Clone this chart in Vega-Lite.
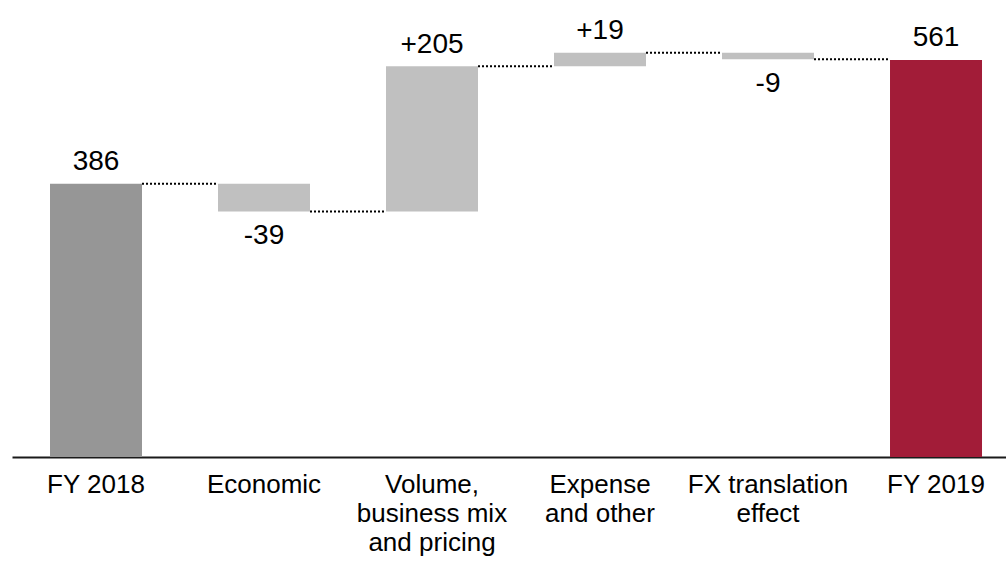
{
  "$schema": "https://vega.github.io/schema/vega-lite/v6.json",
  "autosize": {"type": "none"},
  "width": 994,
  "height": 453,
  "padding": {"left": 12, "top": 4, "right": 0, "bottom": 105},
  "background": "white",
  "config": {"view": {"stroke": null}, "font": "Liberation Sans"},
  "datasets": {
    "bars": [
      {"cat": "FY 2018", "start": 0, "end": 386, "label": "386", "kind": "start", "side": "up"},
      {"cat": "Economic", "start": 386, "end": 347, "label": "-39", "kind": "delta", "side": "down"},
      {"cat": "Volume,\nbusiness mix\nand pricing", "start": 347, "end": 552, "label": "+205", "kind": "delta", "side": "up"},
      {"cat": "Expense\nand other", "start": 552, "end": 571, "label": "+19", "kind": "delta", "side": "up"},
      {"cat": "FX translation\neffect", "start": 571, "end": 562, "label": "-9", "kind": "delta", "side": "down"},
      {"cat": "FY 2019", "start": 0, "end": 561, "label": "561", "kind": "final", "side": "up"}
    ],
    "links": [
      {"from": "FY 2018", "to": "Economic", "level": 386},
      {"from": "Economic", "to": "Volume,\nbusiness mix\nand pricing", "level": 347},
      {"from": "Volume,\nbusiness mix\nand pricing", "to": "Expense\nand other", "level": 552},
      {"from": "Expense\nand other", "to": "FX translation\neffect", "level": 571},
      {"from": "FX translation\neffect", "to": "FY 2019", "level": 562}
    ]
  },
  "layer": [
    {
      "data": {"name": "bars"},
      "mark": {"type": "bar"},
      "encoding": {
        "x": {
          "field": "cat", "type": "nominal", "sort": null,
          "scale": {"paddingInner": 0.4524, "paddingOuter": 0.1845, "align": 0.613,
            "domain": ["FY 2018", "Economic", "Volume,\nbusiness mix\nand pricing", "Expense\nand other", "FX translation\neffect", "FY 2019"]},
          "axis": {
            "title": null, "labelAngle": 0, "ticks": false, "tickSize": 0,
            "labelPadding": 14, "labelFontSize": 26, "labelColor": "#000000",
            "labelFont": "Liberation Sans", "labelLineHeight": 29,
            "labelExpr": "split(datum.value, '\\n')",
            "domainColor": "#1a1a1a", "domainWidth": 2, "grid": false, "labelLimit": 0
          }
        },
        "y": {"field": "start", "type": "quantitative", "scale": {"domain": [0, 640], "nice": false, "zero": true}, "axis": null},
        "y2": {"field": "end"},
        "color": {
          "field": "kind", "type": "nominal", "legend": null,
          "scale": {"domain": ["start", "delta", "final"], "range": ["#969696", "#c0c0c0", "#a21c38"]}
        }
      }
    },
    {
      "data": {"name": "links"},
      "mark": {"type": "rule", "strokeDash": [2, 2], "strokeWidth": 2, "color": "#000000"},
      "encoding": {
        "x": {"field": "from", "type": "nominal", "sort": null, "bandPosition": 1},
        "x2": {"field": "to", "bandPosition": 0},
        "y": {"field": "level", "type": "quantitative"}
      }
    },
    {
      "data": {"name": "bars"},
      "transform": [{"filter": "datum.side == 'up'"}],
      "mark": {"type": "text", "fontSize": 28, "font": "Liberation Sans", "color": "#000000", "baseline": "alphabetic", "dy": -13.5},
      "encoding": {
        "x": {"field": "cat", "type": "nominal", "sort": null},
        "y": {"field": "end", "type": "quantitative"},
        "text": {"field": "label"}
      }
    },
    {
      "data": {"name": "bars"},
      "transform": [{"filter": "datum.side == 'down'"}],
      "mark": {"type": "text", "fontSize": 28, "font": "Liberation Sans", "color": "#000000", "baseline": "alphabetic", "dy": 33},
      "encoding": {
        "x": {"field": "cat", "type": "nominal", "sort": null},
        "y": {"field": "end", "type": "quantitative"},
        "text": {"field": "label"}
      }
    }
  ]
}
